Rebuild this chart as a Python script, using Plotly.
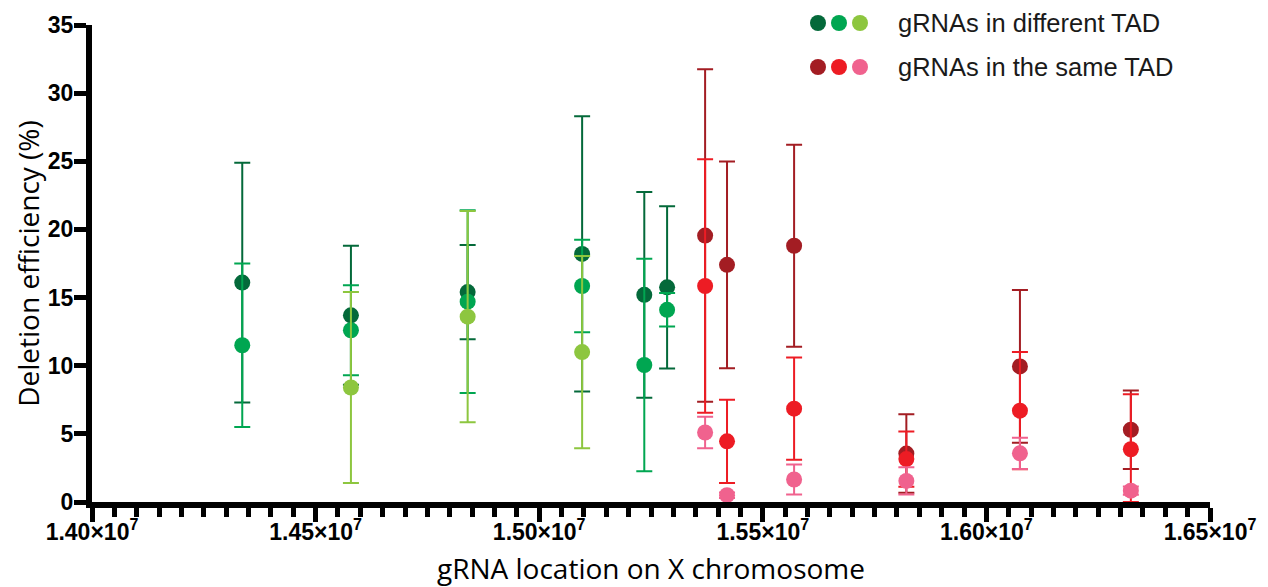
import plotly.graph_objects as go

# ---------------- data ----------------
green_x = [14336000, 14579000, 14840000, 15096000, 15235000, 15286000]
dark_green_mean = [16.1, 13.7, 15.4, 18.2, 15.2, 15.75]
dark_green_sd = [8.8, 5.1, 3.45, 10.1, 7.55, 5.95]
green_mean = [11.5, 12.6, 14.7, 15.85, 10.05, 14.1]
green_sd = [6.0, 3.3, 6.7, 3.4, 7.8, 1.23]
light_green_x = [14579000, 14840000, 15096000]
light_green_mean = [8.4, 13.6, 11.0]
light_green_sd = [7.0, 7.75, 7.05]

red_x = [15371000, 15420000, 15570000, 15821000, 16075000, 16323000]
dark_red_mean = [19.55, 17.4, 18.8, 3.55, 9.95, 5.3]
dark_red_sd = [12.2, 7.58, 7.41, 2.88, 5.6, 2.88]
red_mean = [15.85, 4.45, 6.85, 3.15, 6.7, 3.87]
red_sd = [9.3, 3.05, 3.75, 2.03, 4.3, 4.03]
pink_mean = [5.1, 0.5, 1.65, 1.55, 3.57, 0.83]
pink_sd = [1.15, 0.2, 1.1, 1.0, 1.15, 0.3]

x_tickvals = [14000000, 14500000, 15000000, 15500000, 16000000, 16500000]
x_ticktext = ["1.40×10<sup>7</sup>", "1.45×10<sup>7</sup>", "1.50×10<sup>7</sup>",
              "1.55×10<sup>7</sup>", "1.60×10<sup>7</sup>", "1.65×10<sup>7</sup>"]
y_tickvals = [0, 5, 10, 15, 20, 25, 30, 35]

x_title = "gRNA location on X chromosome"
y_title = "Deletion efficiency (%)"
legend_labels = ["gRNAs in different TAD", "gRNAs in the same TAD"]
C_DG, C_G, C_LG = "#04693a", "#00a651", "#8dc63f"
C_DR, C_R, C_P = "#a31d23", "#ed1c24", "#f0628e"

series = [
    (green_x, dark_green_mean, dark_green_sd, C_DG),
    (green_x, green_mean, green_sd, C_G),
    (light_green_x, light_green_mean, light_green_sd, C_LG),
    (red_x, dark_red_mean, dark_red_sd, C_DR),
    (red_x, red_mean, red_sd, C_R),
    (red_x, pink_mean, pink_sd, C_P),
]

fig = go.Figure()
for xs, ms, sds, col in series:
    minus = [min(s, m) for s, m in zip(sds, ms)]
    fig.add_trace(go.Scatter(
        x=xs, y=ms, mode="markers",
        marker=dict(size=16, color=col, line=dict(width=0)),
        error_y=dict(type="data", array=sds, arrayminus=minus, symmetric=False,
                     color=col, thickness=2, width=8),
        cliponaxis=False, showlegend=False, hoverinfo="x+y",
    ))

# custom legend: three dots per group + label
L, R, T, B = 92, 58, 25, 85
W, H = 1268 - L - R, 587 - T - B
def px(x):
    return (x - L) / W
def py(y):
    return (587 - B - y) / H

rows = [(23, [C_DG, C_G, C_LG]), (67, [C_DR, C_R, C_P])]
for (yy, cols), label in zip(rows, legend_labels):
    for i, c in enumerate(cols):
        fig.add_shape(type="circle", xref="paper", yref="paper",
                      xsizemode="pixel", ysizemode="pixel",
                      xanchor=px(818 + 21 * i), yanchor=py(yy),
                      x0=-8, x1=8, y0=-8, y1=8,
                      fillcolor=c, line=dict(width=0))
    fig.add_annotation(xref="paper", yref="paper", x=px(896), y=py(yy),
                       xanchor="left", yanchor="middle", showarrow=False,
                       text=label,
                       font=dict(family="Liberation Sans, Arial", size=25.5, color="#1a1a1a"))

# x-axis title (annotation so it can sit near the bottom edge)
fig.add_annotation(xref="paper", yref="paper", x=0.5, y=py(568),
                   xanchor="center", yanchor="middle", showarrow=False,
                   text=x_title,
                   font=dict(family="Open Sans", size=28, color="black"))

fig.update_layout(
    width=1268, height=587,
    margin=dict(l=L, r=R, t=T, b=B, autoexpand=False),
    paper_bgcolor="white", plot_bgcolor="white",
    xaxis=dict(
        range=[14000000, 16500000], tickvals=x_tickvals, ticktext=x_ticktext,
        automargin=False,
        showline=True, linewidth=6, linecolor="black", showgrid=False, zeroline=False,
        ticks="outside", ticklen=14, tickwidth=5, tickcolor="black",
        ticklabelstandoff=-10,
        minor=dict(dtick=50000, tick0=14000000, ticks="outside", ticklen=9,
                   tickwidth=5, tickcolor="black", showgrid=False),
        tickfont=dict(family="Liberation Sans, Arial", size=23, color="black", weight="bold"),
    ),
    yaxis=dict(
        range=[0, 35], tickvals=y_tickvals,
        automargin=False,
        showline=True, linewidth=6, linecolor="black", showgrid=False, zeroline=False,
        ticks="outside", ticklen=12, tickwidth=5, tickcolor="black",
        ticklabelstandoff=-4,
        tickfont=dict(family="Liberation Sans, Arial", size=23, color="black", weight="bold"),
        title=dict(text=y_title, standoff=2,
                   font=dict(family="Open Sans", size=28, color="black")),
    ),
)

fig.write_html("out.html")
